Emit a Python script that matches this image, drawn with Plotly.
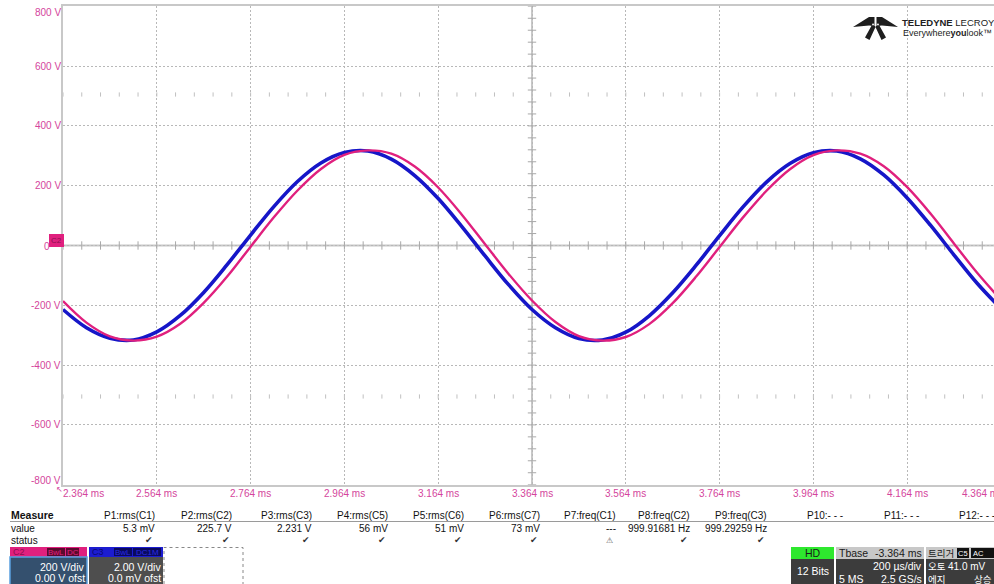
import plotly.graph_objects as go

W, H = 994, 584
FONT = "Liberation Sans, Arial, sans-serif"
KFONT = "Noto Sans CJK KR, sans-serif"

# ---- waveform samples (ms, volts) ----
time_ms = [2.364, 2.414, 2.464, 2.514, 2.564, 2.614, 2.664, 2.714, 2.764, 2.814,
           2.864, 2.914, 2.964, 3.014, 3.064, 3.114, 3.164, 3.214, 3.264, 3.314,
           3.364, 3.414, 3.464, 3.514, 3.564, 3.614, 3.664, 3.714, 3.764, 3.814,
           3.864, 3.914, 3.964, 4.014, 4.064, 4.114, 4.164, 4.214, 4.264, 4.314, 4.364]

c3_volts = [-214, -275, -310, -316, -289, -234, -157, -64, 35, 131,
            214, 276, 311, 316, 289, 234, 157, 64, -35, -131,
            -214, -275, -311, -316, -290, -235, -158, -66, 33, 129,
            212, 274, 310, 316, 290, 236, 159, 67, -32, -128, -211]

c2_volts = [-186, -258, -304, -318, -305, -262, -192, -104, -4, 95,
            184, 256, 303, 318, 307, 264, 194, 104, 4, -95,
            -184, -256, -303, -318, -306, -263, -193, -104, -5, 94,
            183, 255, 302, 318, 307, 265, 195, 106, 6, -93, -182]

x_tick_vals = [2.364, 2.564, 2.764, 2.964, 3.164, 3.364, 3.564, 3.764, 3.964, 4.164, 4.364]
x_tick_text = ["2.364 ms", "2.564 ms", "2.764 ms", "2.964 ms", "3.164 ms", "3.364 ms",
               "3.564 ms", "3.764 ms", "3.964 ms", "4.164 ms", "4.364 ms"]
y_tick_vals = [800, 600, 400, 200, 0, -200, -400, -600, -800]
y_tick_text = ["800 V", "600 V", "400 V", "200 V", "0 V", "-200 V", "-400 V", "-600 V", "-800 V"]

measure_names = ["P1:rms(C1)", "P2:rms(C2)", "P3:rms(C3)", "P4:rms(C5)", "P5:rms(C6)",
                 "P6:rms(C7)", "P7:freq(C1)", "P8:freq(C2)", "P9:freq(C3)",
                 "P10:- - -", "P11:- - -", "P12:- - -"]
measure_values = ["5.3 mV", "225.7 V", "2.231 V", "56 mV", "51 mV", "73 mV", "---",
                  "999.91681 Hz", "999.29259 Hz", "", "", ""]
measure_status = ["✔", "✔", "✔", "✔", "✔", "✔", "⚠", "✔", "✔", "", "", ""]

# ---- screen geometry ----
X0 = 63.0                 # left edge of graticule (px)
PX_PER_MS = 469.0         # 93.8 px per 200 us division
T0 = 2.364
T_END = T0 + (W - X0) / PX_PER_MS
Y_TOP, Y_BOT = 6.3, 484.7
V_PER_PX = 1600.0 / (Y_BOT - Y_TOP)

TICK_COLOR = "#d4459c"
BLUE = "#1616c8"
MAGENTA = "#e0207e"
GRID = "#b8b8b8"
FRAME = "#c8c8c8"


def px_x(x):
    return x / W


def px_y(y):
    return 1 - y / H


def t_to_px(t):
    return X0 + (t - T0) * PX_PER_MS


def v_to_px(v):
    return (Y_TOP + Y_BOT) / 2 - v / V_PER_PX


annotations = []
shapes = []


def text(x, y, s, size=10, color="#111111", anchor="left", family=FONT):
    annotations.append(dict(
        x=px_x(x), y=px_y(y), xref="paper", yref="paper", text=s, showarrow=False,
        xanchor=anchor, yanchor="middle", borderpad=0, borderwidth=0,
        font=dict(size=size, color=color, family=family)))


def rect(x0, y0, x1, y1, fill, line=None, width=0, dash=None):
    shapes.append(dict(
        type="rect", xref="paper", yref="paper",
        x0=px_x(x0), x1=px_x(x1), y0=px_y(y1), y1=px_y(y0),
        fillcolor=fill, layer="above",
        line=dict(color=line or fill, width=width, dash=dash)))


def poly(points):
    seg = " L ".join(f"{px_x(x)} {px_y(y)}" for x, y in points)
    return f"M {seg} Z"


fig = go.Figure()

# minor ticks on the centre crosshair and the marker rows
minor_t = [T0 + 0.04 * i for i in range(51)]
fig.add_trace(go.Scatter(x=minor_t, y=[0] * len(minor_t), mode="markers",
                         marker=dict(symbol="line-ns", size=6, line=dict(color="#a8a8a8", width=1)),
                         hoverinfo="skip"))
for row_v in (505, -505):
    fig.add_trace(go.Scatter(x=minor_t, y=[row_v] * len(minor_t), mode="markers",
                             marker=dict(symbol="line-ns", size=3, line=dict(color="#c0c0c0", width=1)),
                             hoverinfo="skip"))
minor_v = [-800 + 40 * i for i in range(41)]
fig.add_trace(go.Scatter(x=[3.364] * len(minor_v), y=minor_v, mode="markers",
                         marker=dict(symbol="line-ew", size=6, line=dict(color="#a8a8a8", width=1)),
                         hoverinfo="skip"))

# centre crosshair
fig.add_shape(type="line", xref="x", yref="y", x0=T0, x1=T_END, y0=0, y1=0,
              line=dict(color=FRAME, width=2), layer="below")
fig.add_shape(type="line", xref="x", yref="y", x0=3.364, x1=3.364, y0=-800, y1=800,
              line=dict(color=FRAME, width=2), layer="below")

# traces: C3 (blue) below C2 (magenta)
fig.add_trace(go.Scatter(x=time_ms, y=c3_volts, mode="lines", name="C3",
                         line=dict(color=BLUE, width=3.6, shape="spline", smoothing=1.0)))
fig.add_trace(go.Scatter(x=time_ms, y=c2_volts, mode="lines", name="C2",
                         line=dict(color=MAGENTA, width=2.4, shape="spline", smoothing=1.0)))

# x tick labels
last = len(x_tick_vals) - 1
for i, (tv, tt) in enumerate(zip(x_tick_vals, x_tick_text)):
    xp = t_to_px(tv)
    if i == 0:
        text(xp, 493, tt, size=10, color=TICK_COLOR, anchor="left")
    elif i == last:
        text(xp + 2, 493, tt, size=10, color=TICK_COLOR, anchor="right")
    else:
        text(xp, 493, tt, size=10, color=TICK_COLOR, anchor="center")
text(59, 489, "↖", size=8, color=TICK_COLOR, anchor="center")

# y tick labels (the 0 V label sits under the C2 ground marker, only its digit shows)
for vv, vt in zip(y_tick_vals, y_tick_text):
    yp = min(max(v_to_px(vv), Y_TOP + 6), Y_BOT - 4)
    if vv == 0:
        text(49.5, yp + 1, vt.split()[0], size=10, color=TICK_COLOR, anchor="right")
    else:
        text(61, yp, vt, size=10, color=TICK_COLOR, anchor="right")

# C2 ground marker
annotations.append(dict(x=px_x(56.5), y=px_y(240), xref="paper", yref="paper", text="C2",
                        showarrow=False, xanchor="center", yanchor="middle",
                        bgcolor=MAGENTA, borderpad=1, bordercolor=MAGENTA, borderwidth=1,
                        font=dict(size=8, color="#8a1050", family=FONT)))

# logo
shapes.append(dict(type="path", xref="paper", yref="paper", layer="above",
                   fillcolor="#1e1e1e", line=dict(width=0),
                   path=" ".join([
                       poly([(853, 27), (869, 17), (874.5, 17), (874.5, 25)]),
                       poly([(898, 27), (882, 17), (876.5, 17), (876.5, 25)]),
                       poly([(873, 23), (875.5, 27), (869.5, 40), (865, 37.5)]),
                       poly([(878, 23), (875.5, 27), (881.5, 40), (886, 37.5)]),
                   ])))
text(902, 22, "<b>TELEDYNE</b> LECROY", size=9.5, color="#222222")
text(903, 33, "Everywhere<b>you</b>look™", size=9, color="#222222")

# measurement table
col_right = [155, 232, 312, 388, 464, 540, 616, 690, 767, 843, 919, 995]
text(11, 515, "<b>Measure</b>", size=10.5)
text(11, 528, "value", size=10)
text(11, 540, "status", size=10)
shapes.append(dict(type="line", xref="paper", yref="paper", x0=px_x(10), x1=1,
                   y0=px_y(521.5), y1=px_y(521.5), line=dict(color="#9a9a9a", width=1)))
for xr, nm, vl, st in zip(col_right, measure_names, measure_values, measure_status):
    text(xr, 515, nm, size=10, anchor="right")
    if vl:
        text(xr, 528, vl, size=10, anchor="right")
    if st == "✔":
        text(xr - 2, 540, st, size=9, color="#333333", anchor="right", family="DejaVu Sans")
    elif st:
        text(xr - 3, 540, st, size=8, color="#555555", anchor="right", family="DejaVu Sans")

# C2 channel badge
rect(10, 547, 87, 557, MAGENTA)
rect(47, 548, 65, 556, "#5a0a2e")
rect(66, 548, 79, 556, "#5a0a2e")
rect(10, 557, 87, 586, "#34506e", line="#5aa0e0", width=1.5)
text(13, 552, "C2", size=9, color="#8c0f50")
text(56, 552, "BwL", size=8, color=MAGENTA, anchor="center")
text(72.5, 552, "DC", size=8, color=MAGENTA, anchor="center")
text(85, 567, "200 V/div", size=10.5, color="#ffffff", anchor="right")
text(85, 578, "0.00 V ofst", size=10.5, color="#ffffff", anchor="right")

# C3 channel badge
rect(89, 547, 163, 557, "#1c1cd0")
rect(114, 548, 132, 556, "#0a0a5e")
rect(133, 548, 161, 556, "#0a0a5e")
rect(89, 557, 163, 586, "#4e4e4e")
text(92, 552, "C3", size=9, color="#0a0a70")
text(123, 552, "BwL", size=8, color="#2a2ae0", anchor="center")
text(147, 552, "DC1M", size=8, color="#2a2ae0", anchor="center")
text(161, 567, "2.00 V/div", size=10.5, color="#ffffff", anchor="right")
text(161, 578, "0.0 mV ofst", size=10.5, color="#ffffff", anchor="right")

# empty slot
rect(164, 547.5, 243, 590, "rgba(0,0,0,0)", line="#888888", width=1, dash="dot")

# acquisition status boxes
rect(791, 547, 834, 559, "#2ee82e")
rect(791, 559, 834, 586, "#3c3c3c")
text(812.5, 553, "HD", size=10.5, color="#1a1a1a", anchor="center")
text(812.5, 571, "12 Bits", size=10.5, color="#ffffff", anchor="center")

rect(836, 547, 924, 559, "#c8c8c8")
rect(836, 559, 924, 586, "#3c3c3c")
text(839, 553, "Tbase", size=10.5, color="#1a1a1a")
text(922, 553, "-3.364 ms", size=10.5, color="#1a1a1a", anchor="right")
text(922, 566, "200 µs/div", size=10.5, color="#ffffff", anchor="right")
text(839, 579, "5 MS", size=10.5, color="#ffffff")
text(922, 579, "2.5 GS/s", size=10.5, color="#ffffff", anchor="right")

rect(926, 547, 996, 559, "#c8c8c8")
rect(926, 559, 996, 586, "#3c3c3c")
rect(957, 548, 969, 558, "#111111")
rect(971, 548, 996, 558, "#111111")
text(928, 553, "트리거", size=9.5, color="#1a1a1a", family=KFONT)
text(963, 553, "C5", size=7.5, color="#ffffff", anchor="center")
text(973, 553, "AC", size=7.5, color="#ffffff")
text(928, 566, "오토", size=9.5, color="#ffffff", family=KFONT)
text(948, 566, "41.0 mV", size=10, color="#ffffff")
text(928, 579, "에지", size=9.5, color="#ffffff", family=KFONT)
text(974, 579, "상승", size=9.5, color="#ffffff", family=KFONT)

fig.update_layout(
    width=W, height=H, autosize=False,
    margin=dict(l=0, r=0, t=0, b=0),
    paper_bgcolor="#ffffff", plot_bgcolor="#ffffff",
    showlegend=False,
    annotations=annotations, shapes=list(fig.layout.shapes) + shapes,
    xaxis=dict(domain=[X0 / W, 1], range=[T0, T_END], tickvals=x_tick_vals,
               showticklabels=False, ticks="", showgrid=True, gridcolor=GRID,
               griddash="2px,2px", gridwidth=1, zeroline=False,
               showline=True, linecolor=FRAME, linewidth=2, mirror=True),
    yaxis=dict(domain=[1 - Y_BOT / H, 1 - Y_TOP / H], range=[-800, 800],
               tickvals=y_tick_vals, showticklabels=False, ticks="",
               showgrid=True, gridcolor=GRID, griddash="2px,2px", gridwidth=1,
               zeroline=False, showline=True, linecolor=FRAME, linewidth=2),
)

fig.write_html("out.html")
